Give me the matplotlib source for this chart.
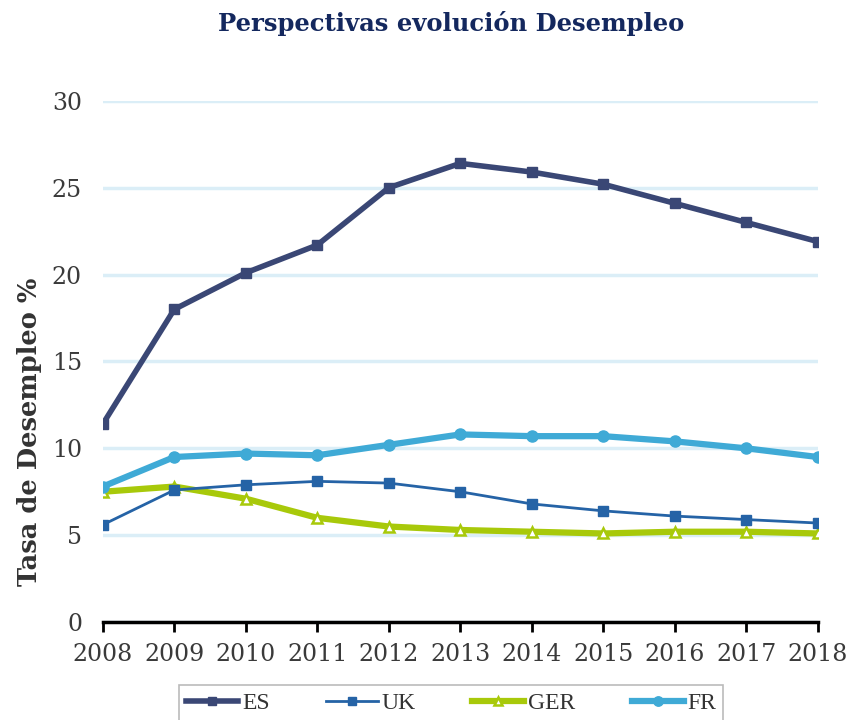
import matplotlib
matplotlib.use("Agg")
import matplotlib.pyplot as plt

years = [2008, 2009, 2010, 2011, 2012, 2013, 2014, 2015, 2016, 2017, 2018]
es = [11.4, 18.0, 20.1, 21.7, 25.0, 26.4, 25.9, 25.2, 24.1, 23.0, 21.9]
uk = [5.6, 7.6, 7.9, 8.1, 8.0, 7.5, 6.8, 6.4, 6.1, 5.9, 5.7]
ger = [7.5, 7.8, 7.1, 6.0, 5.5, 5.3, 5.2, 5.1, 5.2, 5.2, 5.1]
fr = [7.8, 9.5, 9.7, 9.6, 10.2, 10.8, 10.7, 10.7, 10.4, 10.0, 9.5]
yticks = [0, 5, 10, 15, 20, 25, 30]

fig = plt.figure(figsize=(8.5, 7.2), dpi=100)
ax = fig.add_axes([0.121, 0.136, 0.841, 0.724])

ax.plot(years, es, color="#3a4775", lw=4, marker="s", ms=7, label="ES", zorder=5)
ax.plot(years, uk, color="#2563a6", lw=2, marker="s", ms=7, label="UK", zorder=4)
ax.plot(years, ger, color="#a8c90a", lw=4.5, marker="^", ms=7, mfc="white",
        mec="#a8c90a", mew=1.8, label="GER", zorder=3)
ax.plot(years, fr, color="#3faad6", lw=4.5, marker="o", ms=8, label="FR", zorder=3)

ax.set_xlim(2008, 2018)
ax.set_ylim(0, 30)
ax.set_yticks(yticks)
ax.set_xticks(years)
ax.yaxis.grid(True, color="#dbeef7", lw=2.5)
ax.set_axisbelow(True)
for s in ["left", "right", "top"]:
    ax.spines[s].set_visible(False)
ax.spines["bottom"].set_linewidth(2.5)
ax.spines["bottom"].set_color("black")
ax.tick_params(axis="y", length=0, pad=15, labelsize=17, labelcolor="#3a3a3a")
ax.tick_params(axis="x", length=7, width=2, pad=8, labelsize=17, labelcolor="#3a3a3a")
for lab in ax.get_xticklabels() + ax.get_yticklabels():
    lab.set_family("DejaVu Serif")

ax.set_ylabel("Tasa de Desempleo %", family="DejaVu Serif", fontweight="bold",
              fontsize=18.5, color="#333333", va="center")
ax.yaxis.set_label_coords(-0.103, 0.365)
fig.text(0.531, 0.968, "Perspectivas evolución Desempleo", ha="center", va="center",
         family="DejaVu Serif", fontweight="bold", fontsize=17.5, color="#14285e")

leg = fig.legend(loc="lower center", bbox_to_anchor=(0.531, -0.018), ncol=4,
                 frameon=True, fancybox=False, edgecolor="#aaaaaa",
                 prop={"family": "Liberation Serif", "size": 17},
                 handlelength=2.2, columnspacing=2.4, handletextpad=0.15,
                 borderpad=0.3, markerscale=0.85)
leg.get_frame().set_linewidth(1.2)
for t in leg.get_texts():
    t.set_color("#333333")

fig.savefig("out.png", dpi=100)
